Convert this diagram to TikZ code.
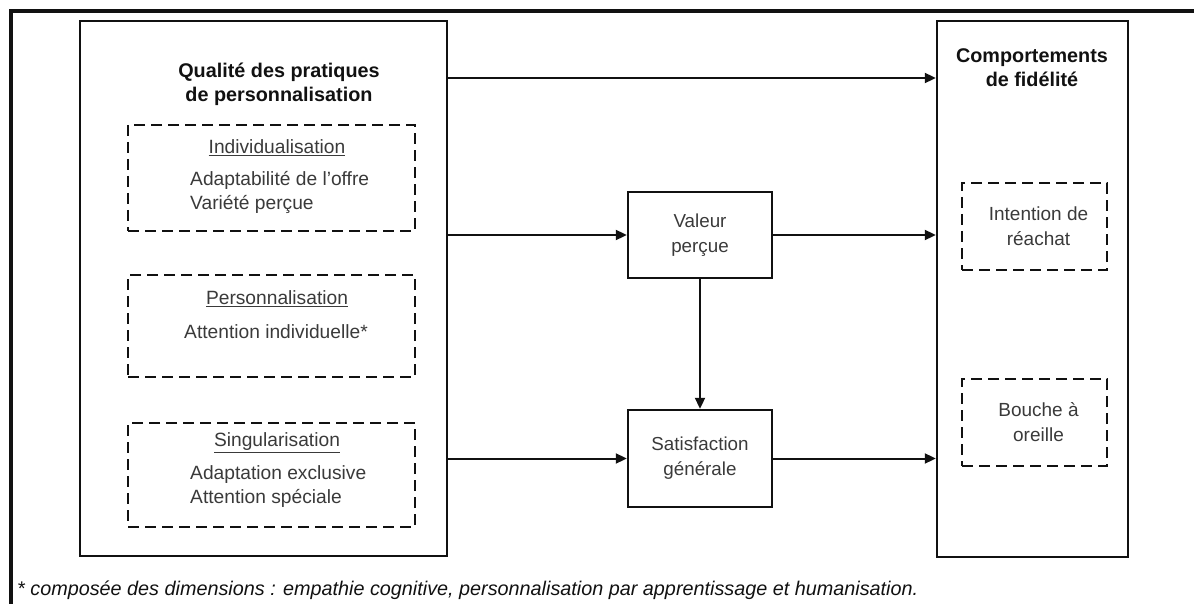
\documentclass[tikz,border=0pt]{standalone}
\usepackage{fontspec}
\setmainfont{Liberation Sans}
\usetikzlibrary{arrows.meta, positioning}
\definecolor{inkOne}{HTML}{111111}
\definecolor{inkTwo}{HTML}{3A3A3A}
\tikzset{
  frame/.style={draw=inkOne, line width=3.2pt},
  bigbox/.style={draw=inkOne, line width=2.4pt},
  midbox/.style={draw=inkOne, line width=2.4pt, minimum width=144pt, align=center, text=inkTwo,
    font=\fontsize{18.8}{25}\selectfont},
  dbox/.style={draw=inkOne, line width=2pt, dash pattern=on 11pt off 6pt},
  head/.style={font=\fontsize{19.8}{24}\selectfont\bfseries, text=inkOne, align=center},
  sub/.style={font=\fontsize{19.2}{24}\selectfont, text=inkTwo, align=center},
  item/.style={font=\fontsize{19.2}{24}\selectfont, text=inkTwo, align=left, anchor=west, inner sep=0pt},
  arr/.style={-{Triangle[length=11pt, width=10pt]}, draw=inkOne, line width=2pt},
}
\begin{document}
\begin{tikzpicture}[x=1pt, y=-1pt]
  \useasboundingbox (0,0) rectangle (1194,604);
  \draw[frame] (1194,11) -- (11,11) -- (11,604);
  % ---- left: quality of the personalisation practices
  \node[bigbox, minimum width=367pt, minimum height=535pt] (qual) at (263.5,288.5) {};
  \node[head] (qualt) at (279,84) {Qualité des pratiques\\de personnalisation};
  \node[dbox, minimum width=287pt, minimum height=106pt] (ind) at (271.5,178) {};
  \node[sub] (indt) at (277,148) {\underline{Individualisation}};
  \node[item] (indi) at (190,192) {Adaptabilité de l’offre\\Variété perçue};
  \node[dbox, minimum width=287pt, minimum height=102pt] (pers) at (271.5,326) {};
  \node[sub] (perst) at (277,299) {\underline{Personnalisation}};
  \node[sub] (persi) at (276,332) {Attention individuelle*};
  \node[dbox, minimum width=287pt, minimum height=104pt] (sing) at (271.5,475) {};
  \node[sub] (singt) at (277,443) {\underline{Singularisation}};
  \node[item] (singi) at (190,487) {Adaptation exclusive\\Attention spéciale};
  % ---- middle: mediators
  \node[midbox, minimum height=86pt] (val) at (700,235) {Valeur\\perçue};
  \node[midbox, minimum height=97pt] (sat) at (700,458.5) {Satisfaction\\générale};
  % ---- right: loyalty behaviours
  \node[bigbox, minimum width=191pt, minimum height=536pt] (fid) at (1032.5,289) {};
  \node[head] (fidt) at (1032,67.5) {Comportements\\de fidélité};
  \node[dbox, minimum width=145pt, minimum height=87pt, align=center, text=inkTwo,
    font=\fontsize{19}{25}\selectfont] (rea) at (1034.5,226.5) {\hspace*{8pt}Intention de\\\hspace*{8pt}réachat};
  \node[dbox, minimum width=145pt, minimum height=87pt, align=center, text=inkTwo,
    font=\fontsize{19}{25}\selectfont] (bao) at (1034.5,422.5) {\hspace*{8pt}Bouche à\\\hspace*{8pt}oreille};
  % ---- links
  \coordinate (tq) at (447,78);
  \draw[arr] (tq) -- (tq -| fid.west);
  \draw[arr] (qual.east |- val.west) -- (val.west);
  \draw[arr] (val.east) -- (val.east -| fid.west);
  \draw[arr] (qual.east |- sat.west) -- (sat.west);
  \draw[arr] (sat.east) -- (sat.east -| fid.west);
  \draw[arr] (val.south) -- (sat.north);
  \node[font=\fontsize{19.8}{22}\selectfont\itshape, text=inkOne, anchor=west, inner sep=0pt] (note) at (17,590)
    {* composée des dimensions : empathie cognitive, personnalisation par apprentissage et humanisation.};
\end{tikzpicture}
\end{document}
